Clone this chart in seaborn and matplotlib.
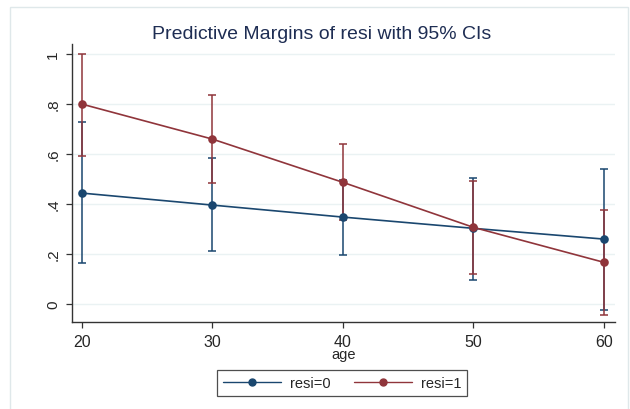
import numpy as np
import pandas as pd
import matplotlib
matplotlib.use("Agg")
import matplotlib.pyplot as plt
from matplotlib.patches import Rectangle
from matplotlib.lines import Line2D
import seaborn as sns

# Predictive margins by age, for each level of resi
ages = [20, 30, 40, 50, 60]
resi0_margin = [0.444, 0.396, 0.348, 0.303, 0.260]
resi0_lower = [0.164, 0.212, 0.196, 0.096, -0.023]
resi0_upper = [0.728, 0.584, 0.496, 0.505, 0.540]
resi1_margin = [0.800, 0.660, 0.487, 0.307, 0.167]
resi1_lower = [0.592, 0.484, 0.338, 0.120, -0.044]
resi1_upper = [1.000, 0.836, 0.639, 0.493, 0.377]
group_labels = ["resi=0", "resi=1"]
y_ticks = [0, 0.2, 0.4, 0.6, 0.8, 1.0]
y_tick_labels = ["0", ".2", ".4", ".6", ".8", "1"]

BLUE = "#1a476f"
RED = "#90353b"

df = pd.DataFrame({
    "age": ages * 2,
    "margin": resi0_margin + resi1_margin,
    "lower": resi0_lower + resi1_lower,
    "upper": resi0_upper + resi1_upper,
    "group": [group_labels[0]] * len(ages) + [group_labels[1]] * len(ages),
})

sns.set_theme(style="white")
plt.rcParams["font.family"] = ["Liberation Sans", "DejaVu Sans"]

fig = plt.figure(figsize=(6.3, 4.1), dpi=100)
fig.patch.set_facecolor("white")
# outer graph region frame
fig.patches.append(Rectangle((0.016, -0.02), 0.981, 1.0, transform=fig.transFigure,
                             fill=False, edgecolor="#dfe8ea", linewidth=1.0))
ax = fig.add_axes([0.114, 0.212, 0.862, 0.678])

palette = {group_labels[0]: BLUE, group_labels[1]: RED}

# confidence intervals
for g in group_labels:
    sub = df[df["group"] == g]
    ax.errorbar(sub["age"], sub["margin"],
                yerr=[sub["margin"] - sub["lower"], sub["upper"] - sub["margin"]],
                fmt="none", ecolor=palette[g], elinewidth=1.1, capsize=2.8,
                capthick=1.1, zorder=2)

sns.lineplot(data=df, x="age", y="margin", hue="group", palette=palette,
             marker="o", markersize=6.2, markeredgewidth=0, linewidth=1.2,
             errorbar=None, legend=False, ax=ax, zorder=3)

ax.set_xlim(19.23, 60.84)
ax.set_ylim(-0.072, 1.04)
ax.set_xticks(ages)
ax.set_xticklabels([str(a) for a in ages], fontsize=11.5)
ax.set_yticks(y_ticks)
ax.set_yticklabels(y_tick_labels, fontsize=11, rotation=90, va="center")
ax.yaxis.grid(True, color="#eaf2f3", linewidth=1.0)
ax.xaxis.grid(False)
ax.set_axisbelow(True)
for side in ["top", "right"]:
    ax.spines[side].set_visible(False)
for side in ["left", "bottom"]:
    ax.spines[side].set_color("#333333")
    ax.spines[side].set_linewidth(1.0)
ax.tick_params(axis="both", which="both", direction="out", length=4.3, width=0.9,
               color="#333333", pad=4, left=True, bottom=True)
ax.set_xlabel("age", fontsize=10.5, labelpad=-1)
ax.set_ylabel("")

fig.text(0.51, 0.917, "Predictive Margins of resi with 95% CIs",
         ha="center", va="center", fontsize=14, color="#1e2d53")

handles = [Line2D([0], [0], color=palette[g], marker="o", markersize=5,
                  linewidth=1.0) for g in group_labels]
leg = fig.legend(handles, group_labels, loc="center", ncol=2,
                 bbox_to_anchor=(0.543, 0.063), frameon=True, fancybox=False,
                 fontsize=10.5, handlelength=4.0, columnspacing=1.6,
                 borderpad=0.4, handletextpad=0.6)
leg.get_frame().set_edgecolor("#222222")
leg.get_frame().set_linewidth(0.9)

fig.savefig("out.png", dpi=100, facecolor="white")
